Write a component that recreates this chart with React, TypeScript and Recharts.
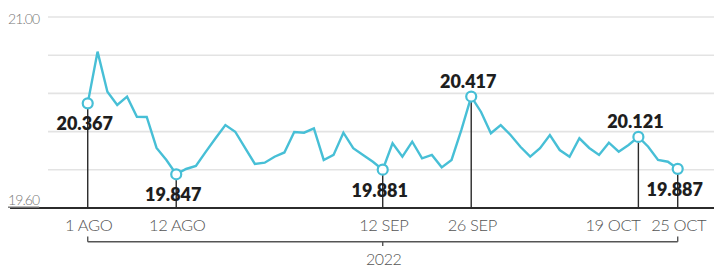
import React from "react";
import { LineChart, Line, XAxis, YAxis, CartesianGrid, ReferenceLine } from "recharts";

// Daily exchange rate, 1 Aug – 25 Oct 2022 (business days)
const values = [
  20.367, 20.746, 20.452, 20.355, 20.416, 20.269, 20.267, 20.04, 19.952, 19.847,
  19.886, 19.908, 20.011, 20.111, 20.208, 20.159, 20.04, 19.923, 19.932, 19.976,
  20.007, 20.157, 20.152, 20.184, 19.952, 19.989, 20.152, 20.038, 19.989, 19.939,
  19.881, 20.074, 19.976, 20.086, 19.964, 19.989, 19.898, 19.952, 20.172, 20.417,
  20.304, 20.148, 20.208, 20.135, 20.049, 19.976, 20.038, 20.135, 20.025, 19.976,
  20.111, 20.04, 19.989, 20.079, 20.013, 20.062, 20.121, 20.049, 19.952, 19.939,
  19.887,
];
const tickIndices = [0, 9, 30, 39, 56, 60];
const tickLabels = ["1 AGO", "12 AGO", "12 SEP", "26 SEP", "19 OCT", "25 OCT"];
const tickAnchors = ["middle", "middle", "middle", "middle", "end", "middle"];
const yearLabel = "2022";
const yTicks = [19.6, 19.88, 20.16, 20.44, 20.72, 21.0];
const yLabelTicks = [19.6, 21.0];
const highlightIndices = [0, 9, 30, 39, 56, 60];
const labelAbove = [39, 56];

const data = values.map((v, i) => ({ i, v }));

const Y_MIN = 19.6;
const Y_MAX = 21.0;
const X_DOMAIN: [number, number] = [-4.04, 63.69];
const LINE_COLOR = "#47bfd6";
const DARK = "#2b2b2b";

const XTick = (props: any) => {
  const { x, y, payload } = props;
  const idx = tickIndices.indexOf(payload.value);
  const mid = (tickIndices[0] + tickIndices[tickIndices.length - 1]) / 2;
  const anchor = idx >= 0 ? tickAnchors[idx] : "middle";
  return (
    <g>
      <text
        x={anchor === "end" ? x + 2 : x + 1}
        y={y + 17}
        textAnchor={anchor as any}
        dominantBaseline="central"
        fontFamily="Lato, sans-serif"
        fontWeight={300}
        fontSize={16.5}
        letterSpacing={-0.4}
        fill="#555"
      >
        {idx >= 0 ? tickLabels[idx] : ""}
      </text>
      {payload.value === mid ? (
        <text
          x={x + 1}
          y={y + 50}
          textAnchor="middle"
          dominantBaseline="central"
          fontFamily="Lato, sans-serif"
          fontWeight={300}
          fontSize={16}
          letterSpacing={-0.4}
          fill="#555"
        >
          {yearLabel}
        </text>
      ) : null}
    </g>
  );
};

const YTick = (props: any) => {
  const { y, payload } = props;
  if (!yLabelTicks.includes(payload.value)) return <g />;
  const isBottom = payload.value === Y_MIN;
  return (
    <text
      x={8}
      y={isBottom ? y - 9 : y + 1}
      textAnchor="start"
      dominantBaseline="central"
      fontFamily="Lato, sans-serif"
      fontWeight={300}
      fontSize={14}
      letterSpacing={-0.9}
      fill="#777"
      textDecoration={isBottom ? "underline" : undefined}
    >
      {payload.value.toFixed(2)}
    </text>
  );
};

const Dot = (props: any) => {
  const { cx, cy, index, value } = props;
  if (!highlightIndices.includes(index)) return <g key={`d${index}`} />;
  const above = labelAbove.includes(index);
  return (
    <g key={`d${index}`}>
      <circle cx={cx} cy={cy} r={5} fill="#fff" stroke={LINE_COLOR} strokeWidth={2.2} />
      <text
        x={cx - 3}
        y={above ? cy - 16 : cy + 20}
        textAnchor="middle"
        dominantBaseline="central"
        fontFamily="Lato, sans-serif"
        fontWeight={800}
        fontSize={18}
        fill="#1e1e1e"
      >
        {Number(value).toFixed(3)}
      </text>
    </g>
  );
};

export default function App() {
  const first = tickIndices[0];
  const last = tickIndices[tickIndices.length - 1];
  const mid = (first + last) / 2;
  return (
    <div style={{ position: "absolute", left: 0, top: 0, width: 714, height: 272, background: "#fff" }}>
      <LineChart
        width={714}
        height={272}
        data={data}
        margin={{ top: 17, right: 0, bottom: 0, left: 0 }}
      >
        <CartesianGrid
          horizontal
          vertical={false}
          stroke="#e3e3e3"
          strokeWidth={1.6}
          horizontalValues={yTicks}
        />
        <XAxis
          type="number"
          dataKey="i"
          domain={X_DOMAIN}
          allowDataOverflow
          ticks={tickIndices}
          interval={0}
          axisLine={false}
          tickLine={false}
          tickSize={0}
          tickMargin={0}
          height={64}
          tick={<XTick />}
        />
        <YAxis
          type="number"
          domain={[Y_MIN, Y_MAX]}
          ticks={yTicks}
          interval={0}
          width={48}
          axisLine={false}
          tickLine={false}
          tick={<YTick />}
        />
        {/* baseline */}
        <ReferenceLine
          segment={[
            { x: -7.9, y: Y_MIN },
            { x: X_DOMAIN[1], y: Y_MIN },
          ]}
          stroke={DARK}
          strokeWidth={2}
          ifOverflow="visible"
        />
        {/* drop lines */}
        {highlightIndices.map((i) => (
          <ReferenceLine
            key={`v${i}`}
            segment={[
              { x: i, y: values[i] },
              { x: i, y: Y_MIN },
            ]}
            stroke={DARK}
            strokeWidth={1.4}
            ifOverflow="visible"
          />
        ))}
        {/* year bracket */}
        <ReferenceLine
          segment={[
            { x: first, y: 19.353 },
            { x: last, y: 19.353 },
          ]}
          stroke="#555"
          strokeWidth={1.4}
          ifOverflow="visible"
        />
        <ReferenceLine
          segment={[
            { x: first, y: 19.353 },
            { x: first, y: 19.392 },
          ]}
          stroke="#555"
          strokeWidth={1.4}
          ifOverflow="visible"
        />
        <ReferenceLine
          segment={[
            { x: last, y: 19.353 },
            { x: last, y: 19.392 },
          ]}
          stroke="#555"
          strokeWidth={1.4}
          ifOverflow="visible"
        />
        <ReferenceLine
          segment={[
            { x: mid, y: 19.353 },
            { x: mid, y: 19.322 },
          ]}
          stroke="#555"
          strokeWidth={1.4}
          ifOverflow="visible"
        />
        <Line
          type="linear"
          dataKey="v"
          stroke={LINE_COLOR}
          strokeWidth={2.4}
          dot={<Dot />}
          activeDot={false}
          isAnimationActive={false}
        />
      </LineChart>
    </div>
  );
}
